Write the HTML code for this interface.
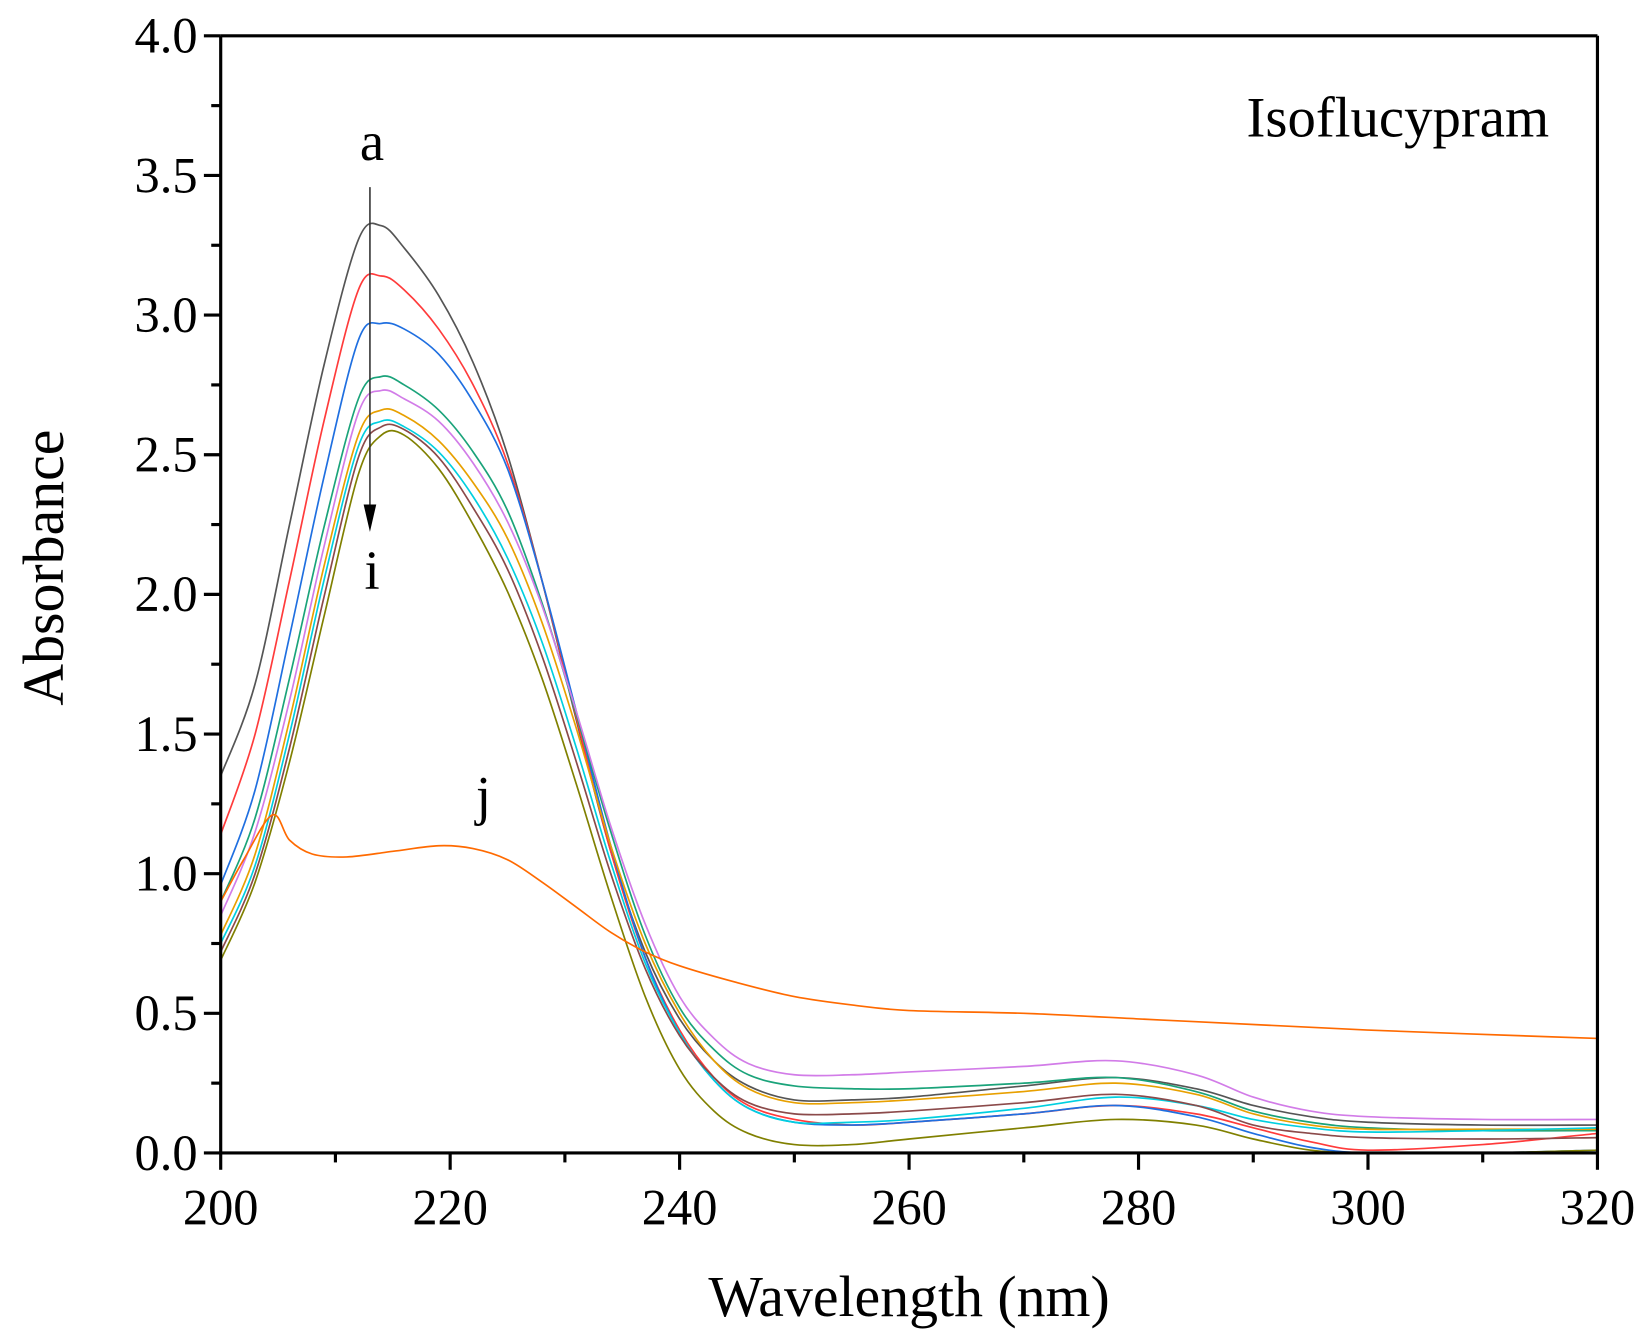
<!DOCTYPE html>
<html><head><meta charset="utf-8"><style>
html,body{margin:0;padding:0;background:#fff;}
svg{display:block;}
text{font-family:"Liberation Serif",serif;fill:#000;}
</style></head><body>
<svg id="chart" width="1650" height="1338" viewBox="0 0 1570 1273" xmlns="http://www.w3.org/2000/svg">
<g id="series"></g>
<g id="axes"></g>
<text x="1474" y="130" font-size="54" text-anchor="end">Isoflucypram</text>
<text x="354" y="152" font-size="52" text-anchor="middle">a</text>
<text x="354" y="560" font-size="52" text-anchor="middle">i</text>
<text x="460" y="775" font-size="52" text-anchor="middle">j</text>
<line x1="352" y1="178" x2="352" y2="485" stroke="#333" stroke-width="1.5"/>
<polygon points="346,480 358,480 352,506" fill="#000"/>
<text x="865" y="1252" font-size="55" text-anchor="middle">Wavelength (nm)</text>
<text transform="translate(60,540) rotate(-90)" font-size="55" text-anchor="middle">Absorbance</text>
</svg>
<script>
const wavelengths=[200,203,206,209,212,214,216,219,222,225,228,231,234,237,240,243,246,250,255,260,270,278,285,290,295,300,310,320];
const seriesA=[1.35,1.68,2.25,2.82,3.27,3.32,3.24,3.07,2.83,2.5,2.05,1.55,1.08,0.72,0.48,0.33,0.24,0.19,0.19,0.2,0.24,0.27,0.23,0.17,0.13,0.11,0.1,0.1];
const seriesB=[1.14,1.5,2.05,2.62,3.09,3.14,3.09,2.95,2.75,2.47,2.05,1.56,1.08,0.7,0.44,0.27,0.17,0.12,0.1,0.11,0.14,0.17,0.14,0.09,0.04,0.01,0.03,0.07];
const seriesC=[0.96,1.3,1.85,2.42,2.91,2.97,2.95,2.86,2.69,2.45,2.05,1.58,1.1,0.7,0.43,0.26,0.16,0.11,0.1,0.11,0.14,0.17,0.13,0.07,0.02,0.0,0.0,0.01];
const seriesD=[0.9,1.2,1.7,2.24,2.7,2.78,2.75,2.66,2.51,2.3,1.97,1.57,1.15,0.78,0.52,0.37,0.28,0.24,0.23,0.23,0.25,0.27,0.22,0.15,0.11,0.09,0.08,0.08];
const seriesE=[0.85,1.15,1.62,2.17,2.65,2.73,2.7,2.62,2.47,2.26,1.96,1.58,1.17,0.82,0.56,0.41,0.32,0.28,0.28,0.29,0.31,0.33,0.28,0.2,0.15,0.13,0.12,0.12];
const seriesF=[0.78,1.07,1.55,2.1,2.57,2.66,2.64,2.55,2.4,2.2,1.9,1.52,1.1,0.75,0.5,0.33,0.23,0.18,0.18,0.19,0.22,0.25,0.21,0.14,0.1,0.085,0.085,0.085];
const seriesG=[0.75,1.03,1.5,2.05,2.53,2.62,2.6,2.51,2.35,2.13,1.83,1.45,1.04,0.68,0.43,0.26,0.16,0.11,0.11,0.12,0.16,0.2,0.17,0.12,0.09,0.075,0.08,0.09];
const seriesH=[0.72,1.0,1.45,1.99,2.49,2.6,2.59,2.49,2.31,2.09,1.78,1.4,1.0,0.66,0.42,0.27,0.18,0.14,0.14,0.15,0.18,0.21,0.17,0.1,0.07,0.055,0.05,0.055];
const seriesI=[0.69,0.97,1.4,1.92,2.43,2.57,2.57,2.45,2.25,2.01,1.7,1.32,0.92,0.56,0.3,0.15,0.07,0.03,0.03,0.05,0.09,0.12,0.1,0.05,0.01,0.0,0.0,0.01];
const wavelengthsJ=[200,202,204.5,206,208,211,215,219,222,225,228,231,234,237,240,245,250,255,260,270,280,285,300,320];
const seriesJ=[0.9,1.05,1.21,1.12,1.07,1.06,1.08,1.1,1.09,1.05,0.97,0.88,0.79,0.72,0.67,0.61,0.56,0.53,0.51,0.5,0.48,0.47,0.44,0.41];
const seriesNames=['a','b','c','d','e','f','g','h','i'];
const seriesColors=['#555555','#ff3b3b','#1f6fe0','#1aa37a','#d27ce8','#e8a000','#00cfe0','#8b4a4a','#808000'];
const xTicks=[200,220,240,260,280,300,320];
const yTicks=['0.0','0.5','1.0','1.5','2.0','2.5','3.0','3.5','4.0'];

const X0=210,X1=1520,Y0=1097,Y1=34;
function xs(w){return X0+(w-200)/(320-200)*(X1-X0);}
function ys(v){return Y0-(v/4)*(Y0-Y1);}
const NS='http://www.w3.org/2000/svg';
function smoothPath(wl,vals){
  const p=wl.map((w,i)=>[xs(w),ys(vals[i])]);
  let d='M'+p[0][0].toFixed(2)+','+p[0][1].toFixed(2);
  for(let i=0;i<p.length-1;i++){
    const p0=p[Math.max(0,i-1)],p1=p[i],p2=p[i+1],p3=p[Math.min(p.length-1,i+2)];
    const c1=[p1[0]+(p2[0]-p0[0])/6,p1[1]+(p2[1]-p0[1])/6];
    const c2=[p2[0]-(p3[0]-p1[0])/6,p2[1]-(p3[1]-p1[1])/6];
    d+=' C'+c1.map(v=>v.toFixed(2)).join(',')+' '+c2.map(v=>v.toFixed(2)).join(',')+' '+p2[0].toFixed(2)+','+p2[1].toFixed(2);
  }
  return d;
}
const sg=document.getElementById('series');
const allSeries=[seriesA,seriesB,seriesC,seriesD,seriesE,seriesF,seriesG,seriesH,seriesI];
allSeries.forEach((s,k)=>{
  const path=document.createElementNS(NS,'path');
  path.setAttribute('d',smoothPath(wavelengths,s));
  path.setAttribute('fill','none');
  path.setAttribute('stroke',seriesColors[k]);
  path.setAttribute('stroke-width','1.6');
  
  
  sg.appendChild(path);
});
const pj=document.createElementNS(NS,'path');
pj.setAttribute('d',smoothPath(wavelengthsJ,seriesJ));
pj.setAttribute('fill','none');
pj.setAttribute('stroke','#ff6a00');
pj.setAttribute('stroke-width','1.6');


sg.appendChild(pj);

const ag=document.getElementById('axes');
function line(x1,y1,x2,y2,w,name){
  const l=document.createElementNS(NS,'line');
  l.setAttribute('x1',x1);l.setAttribute('y1',y1);l.setAttribute('x2',x2);l.setAttribute('y2',y2);
  l.setAttribute('stroke','#000');l.setAttribute('stroke-width',w);
  
  
  ag.appendChild(l);
}
function text(x,y,s,anchor,name){
  const t=document.createElementNS(NS,'text');
  t.setAttribute('x',x);t.setAttribute('y',y);t.setAttribute('font-size','48');t.setAttribute('text-anchor',anchor);
  t.textContent=s;
  
  
  ag.appendChild(t);
}
line(X0,Y1,X1,Y1,3,'top-axis');
line(X1,Y1,X1,Y0,3,'right-axis');
line(X0,Y1,X0,Y0+1.5,3,'y-axis');
line(X0-1.5,Y0,X1+1.5,Y0,3,'x-axis');
xTicks.forEach(w=>{
  line(xs(w),Y0,xs(w),Y0+16,3,'x-tick');
  text(xs(w),Y0+68,String(w),'middle','x-tick-label');
});
for(let w=210;w<320;w+=20){line(xs(w),Y0,xs(w),Y0+9,3,'x-minor-tick');}
yTicks.forEach(s=>{
  const v=parseFloat(s);
  line(X0-16,ys(v),X0,ys(v),3,'y-tick');
  text(X0-22,ys(v)+16,s,'end','y-tick-label');
});
for(let v=0.25;v<4;v+=0.5){line(X0-9,ys(v),X0,ys(v),3,'y-minor-tick');}
</script>
</body></html>
